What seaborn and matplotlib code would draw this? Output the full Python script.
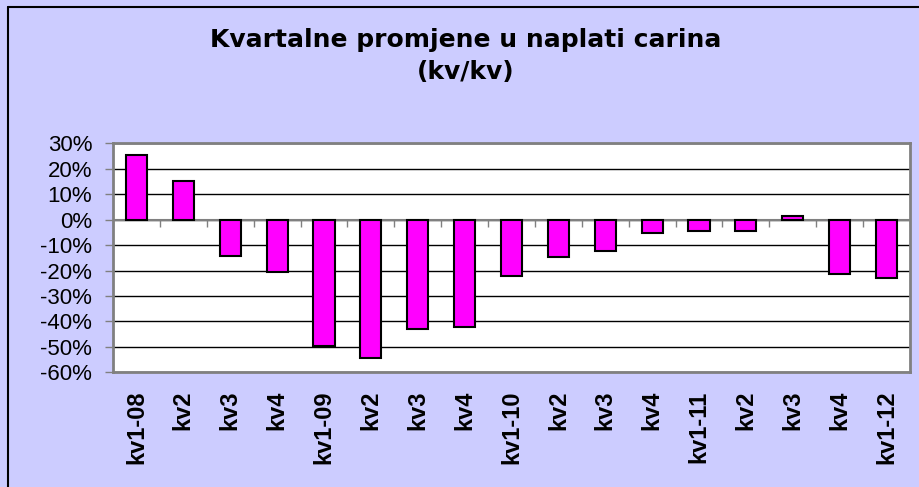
import numpy as np
import pandas as pd
import matplotlib
matplotlib.use("Agg")
import matplotlib.pyplot as plt
import seaborn as sns
from matplotlib.lines import Line2D

# Quarter labels and quarter-on-quarter change (%)
quarters = ['kv1-08', 'kv2', 'kv3', 'kv4',
            'kv1-09', 'kv2', 'kv3', 'kv4',
            'kv1-10', 'kv2', 'kv3', 'kv4',
            'kv1-11', 'kv2', 'kv3', 'kv4',
            'kv1-12']
changes = [25.5, 15.3, -14.4, -20.6,
           -49.6, -54.3, -42.9, -42.1,
           -22.3, -14.6, -12.2, -5.4,
           -4.6, -4.6, 1.6, -21.4,
           -23.0]
y_ticks = [30, 20, 10, 0, -10, -20, -30, -40, -50, -60]

title_line1 = "Kvartalne promjene u naplati carina"
title_line2 = "(kv/kv)"

bg_color = '#CCCCFF'
bar_color = '#FF00FF'

df = pd.DataFrame({'pos': range(len(quarters)), 'change': changes})

sns.set_style("white")
plt.rcParams['font.family'] = ['Liberation Sans', 'DejaVu Sans']
plt.rcParams['text.color'] = 'black'
plt.rcParams['xtick.color'] = 'black'
plt.rcParams['ytick.color'] = 'black'

fig = plt.figure(figsize=(9.2, 4.87), dpi=100, facecolor=bg_color)
ax = fig.add_axes([113 / 920, 1 - 372.3 / 487, (910 - 113) / 920, (372.3 - 143.3) / 487])
ax.set_facecolor('white')

sns.barplot(data=df, x='pos', y='change', color=bar_color, saturation=1,
            width=0.45, edgecolor='black', linewidth=1.5, ax=ax, zorder=3)

ax.set_ylim(-60, 30)
ax.set_xlim(-0.5, len(quarters) - 0.5)
ax.set_yticks(y_ticks)
ax.set_yticklabels([f"{v}%" for v in y_ticks], fontsize=16, color='black')
ax.set_xticks(range(len(quarters)))
ax.set_xticklabels(quarters, rotation=90, fontsize=17, fontweight='bold', color='black')
ax.tick_params(axis='x', length=0, pad=13)
ax.tick_params(axis='y', length=6, width=1, color='#808080', pad=9, direction='out', left=True)
ax.set_xlabel('')
ax.set_ylabel('')

# gridlines
ax.yaxis.grid(True, color='black', linewidth=1)
ax.set_axisbelow(True)

# zero line with category separator ticks
ax.axhline(0, color='#808080', linewidth=1.5, zorder=2)
ax.vlines(np.arange(len(quarters) + 1) - 0.5, -3, 0, color='#808080', linewidth=1, zorder=2)

for side in ['top', 'bottom', 'left', 'right']:
    ax.spines[side].set_visible(True)
    ax.spines[side].set_color('#808080')
    ax.spines[side].set_linewidth(2)

# title
fig.text(466 / 920, 1 - 47 / 487, title_line1, ha='center', va='baseline', color='black',
         fontsize=18, fontweight='bold', family=['DejaVu Sans'])
fig.text(466 / 920, 1 - 79 / 487, title_line2, ha='center', va='baseline', color='black',
         fontsize=18, fontweight='bold', family=['DejaVu Sans'])

# outer chart border (left and top only visible)
fig.add_artist(Line2D([8 / 920, 8 / 920], [0, 1 - 7 / 487], color='black', linewidth=1.5))
fig.add_artist(Line2D([8 / 920, 1], [1 - 7 / 487, 1 - 7 / 487], color='black', linewidth=1.5))

fig.savefig('out.png', dpi=100, facecolor=bg_color)
